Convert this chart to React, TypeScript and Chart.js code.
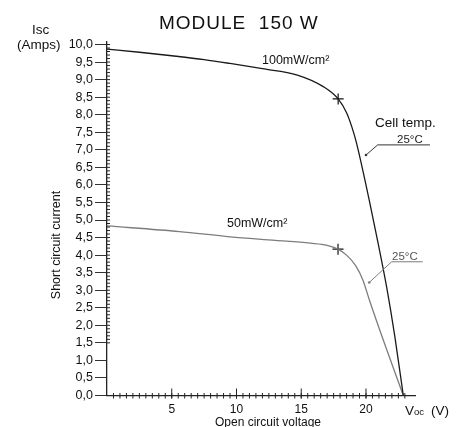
import React, { useEffect, useRef } from 'react';
import { Chart, registerables } from 'chart.js';

Chart.register(...registerables);

// ---- data ----
const voltage100 = [0, 2.5, 5, 7.5, 9.5, 12, 14.7, 16.7, 17.85, 18.51, 18.9, 19.25, 20.23, 20.93, 21.6, 22.24, 22.88];
const current100 = [9.87, 9.78, 9.68, 9.57, 9.46, 9.31, 9.13, 8.8, 8.45, 8.05, 7.66, 7.22, 5.6, 4.35, 3.08, 1.65, 0];
const voltage50 = [0, 5.6, 9.5, 13, 15.7, 17.0, 17.84, 18.5, 19.2, 19.75, 20.3, 21.5, 22.88];
const current50 = [4.83, 4.67, 4.52, 4.42, 4.34, 4.28, 4.17, 4.0, 3.7, 3.3, 2.68, 1.41, 0];
const mppVoltage = [17.85, 17.84];
const mppCurrent = [8.45, 4.17];

const xTickValues = [0, 5, 10, 15, 20];
const yTickValues = [0, 0.5, 1, 1.5, 2, 2.5, 3, 3.5, 4, 4.5, 5, 5.5, 6, 6.5, 7, 7.5, 8, 8.5, 9, 9.5, 10];

// annotation anchors (data units)
const leader100 = [[20.0, 6.85], [20.9, 7.14], [24.94, 7.14]];
const leader50 = [[20.25, 3.22], [21.98, 3.81], [24.38, 3.81]];

const FONT = '"Liberation Sans", Arial, Helvetica, sans-serif';
const BLACK = '#1a1a1a';
const GRAY = '#7d7d7d';

const toPoints = (xs: number[], ys: number[]) => xs.map((x, i) => ({ x, y: ys[i] }));

const decorPlugin = {
  id: 'decor',
  afterDraw(chart: any) {
    const { ctx, scales } = chart;
    const xs = scales.x;
    const ys = scales.y;
    const px = (v: number) => xs.getPixelForValue(v);
    const py = (v: number) => ys.getPixelForValue(v);
    const line = (x1: number, y1: number, x2: number, y2: number) => {
      ctx.beginPath();
      ctx.moveTo(x1, y1);
      ctx.lineTo(x2, y2);
      ctx.stroke();
    };
    ctx.save();
    ctx.strokeStyle = '#222';
    ctx.lineWidth = 1;
    const y0 = py(0);
    const x0 = px(0);
    // x minor ticks every 0.5
    for (let v = 0.5; v <= 23.01; v += 0.5) {
      const p = px(v);
      line(p, y0 - 2.5, p, y0 + 3);
    }
    // x major ticks (upward)
    for (const v of xTickValues) {
      if (v === 0) continue;
      const p = px(v);
      line(p, y0 - 7, p, y0 + 3);
    }
    // y minor ticks every 0.1 on the right side
    for (let i = 15; i <= 100; i++) {
      const p = py(i / 10);
      line(x0, p, x0 + 3, p);
    }

    // leaders
    const drawLeader = (pts: number[][], color: string) => {
      ctx.strokeStyle = color;
      ctx.fillStyle = color;
      ctx.lineWidth = 1;
      ctx.beginPath();
      ctx.moveTo(px(pts[0][0]), py(pts[0][1]));
      for (let i = 1; i < pts.length; i++) ctx.lineTo(px(pts[i][0]), py(pts[i][1]));
      ctx.stroke();
      ctx.beginPath();
      ctx.arc(px(pts[0][0]), py(pts[0][1]), 1.3, 0, Math.PI * 2);
      ctx.fill();
    };
    drawLeader(leader100, '#333');
    drawLeader(leader50, GRAY);

    // texts
    ctx.textBaseline = 'alphabetic';
    ctx.textAlign = 'left';
    ctx.fillStyle = '#111';
    const text = (t: string, x: number, y: number, size: number, color = '#111', spacing = '0px') => {
      ctx.font = `${size}px ${FONT}`;
      ctx.fillStyle = color;
      (ctx as any).letterSpacing = spacing;
      ctx.fillText(t, x, y);
      (ctx as any).letterSpacing = '0px';
    };
    text('MODULE  150 W', 159, 28.5, 19, '#111', '1px');
    text('Isc', 32, 33.5, 13.5);
    text('(Amps)', 17, 48.5, 13.5);
    text('100mW/cm²', 262, 63.5, 12.5);
    text('50mW/cm²', 227, 226.5, 12.5);
    text('Cell temp.', 375, 127, 13.5);
    text('25°C', 397, 143, 11.5, '#222');
    text('25°C', 392, 259.5, 11.5, '#555');
    text('V', 405, 414.5, 13.5);
    text('oc', 414, 414.5, 9.5);
    text('(V)', 431, 414.5, 13.5);
    ctx.textAlign = 'center';
    text('Open circuit voltage', 268, 426, 12);

    ctx.save();
    ctx.translate(57, 245);
    ctx.rotate(-Math.PI / 2);
    ctx.textAlign = 'center';
    ctx.textBaseline = 'middle';
    ctx.font = `12.5px ${FONT}`;
    ctx.fillStyle = '#111';
    ctx.fillText('Short circuit current', 0, 0);
    ctx.restore();

    ctx.restore();
  },
};

export default function App() {
  const ref = useRef<HTMLCanvasElement | null>(null);

  useEffect(() => {
    document.body.style.margin = '0';
    const canvas = ref.current;
    if (!canvas) return;
    const chart = new Chart(canvas, {
      type: 'line',
      data: {
        datasets: [
          {
            label: '100mW/cm²',
            data: toPoints(voltage100, current100),
            borderColor: BLACK,
            borderWidth: 1.3,
            pointRadius: 0,
            cubicInterpolationMode: 'monotone',
            fill: false,
          },
          {
            label: '50mW/cm²',
            data: toPoints(voltage50, current50),
            borderColor: GRAY,
            borderWidth: 1.3,
            pointRadius: 0,
            cubicInterpolationMode: 'monotone',
            fill: false,
          },
          {
            label: 'MPP',
            data: toPoints(mppVoltage, mppCurrent),
            showLine: false,
            pointStyle: 'cross',
            pointRadius: 5.5,
            pointBorderWidth: 1.2,
            pointBorderColor: '#111',
            borderColor: '#111',
          },
        ],
      },
      options: {
        responsive: false,
        animation: false,
        devicePixelRatio: 1,
        layout: { padding: { left: 0, top: 41.7, right: 41.8, bottom: 0 } },
        plugins: {
          legend: { display: false },
          tooltip: { enabled: false },
          title: { display: false },
        },
        scales: {
          x: {
            type: 'linear',
            min: 0,
            max: 23.8,
            afterBuildTicks: (s: any) => {
              s.ticks = xTickValues.map((v) => ({ value: v }));
            },
            afterFit: (s: any) => {
              s.height = 31.5;
            },
            grid: { display: false, drawTicks: false },
            border: { display: true, color: '#222', width: 1.3 },
            ticks: {
              padding: 7,
              color: '#111',
              font: { family: FONT, size: 12 },
              maxRotation: 0,
              autoSkip: false,
              callback: (v: any) => (v === 0 ? '' : String(v)),
            },
          },
          y: {
            type: 'linear',
            min: 0,
            max: 10.08,
            afterBuildTicks: (s: any) => {
              s.ticks = yTickValues.map((v) => ({ value: v }));
            },
            afterFit: (s: any) => {
              s.width = 107;
            },
            grid: {
              display: true,
              drawOnChartArea: false,
              drawTicks: true,
              tickLength: 12,
              color: '#333',
              lineWidth: 1,
            },
            border: { display: true, color: '#222', width: 1.3 },
            ticks: {
              padding: 2,
              color: '#111',
              autoSkip: false,
              font: { family: FONT, size: 12.5 },
              callback: (v: any) => Number(v).toFixed(1).replace('.', ','),
            },
          },
        },
      },
      plugins: [decorPlugin],
    } as any);
    return () => chart.destroy();
  }, []);

  return (
    <div style={{ position: 'absolute', left: 0, top: 0, width: 457, height: 427, background: '#fff' }}>
      <canvas ref={ref} width={457} height={427} style={{ width: 457, height: 427, display: 'block' }} />
    </div>
  );
}
